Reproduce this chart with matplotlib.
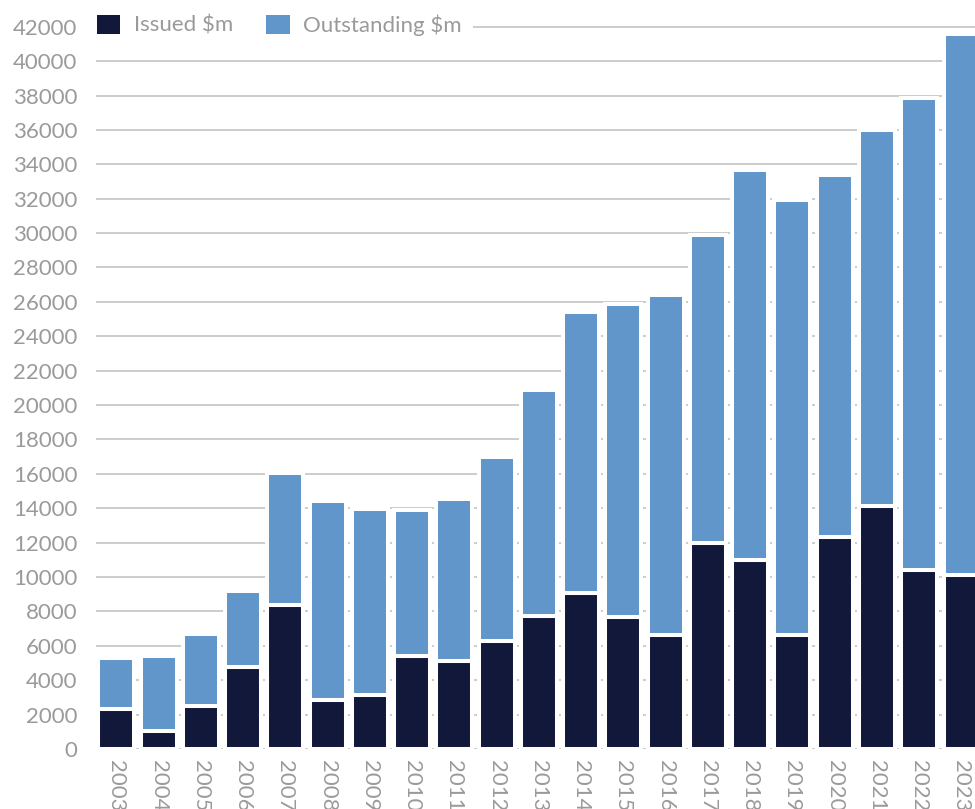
import numpy as np
import matplotlib.pyplot as plt
from matplotlib.patches import Patch

# data
years = ["2003", "2004", "2005", "2006", "2007", "2008", "2009", "2010", "2011", "2012",
         "2013", "2014", "2015", "2016", "2017", "2018", "2019", "2020", "2021", "2022", "2023"]
issued = [2300, 1050, 2500, 4750, 8350, 2850, 3150, 5400, 5100, 6300,
          7750, 9050, 7650, 6650, 11950, 11000, 6650, 12300, 14150, 10400, 10100]
outstanding = [3000, 4350, 4200, 4450, 7700, 11550, 10800, 8500, 9450, 10700,
               13150, 16350, 18200, 19750, 17950, 22650, 25300, 21100, 21850, 27450, 31450]
labels = ["Issued $m", "Outstanding $m"]

dark = "#11183a"
blue = "#6196cb"
grey = "#9a9a9a"

plt.rcParams['font.family'] = ['Lato', 'DejaVu Sans']

fig = plt.figure(figsize=(9.75, 8.09), dpi=100)
ax = fig.add_axes([96 / 975, 60 / 809, 879 / 975, 724 / 809])

x = np.arange(len(years))
ax.bar(x, issued, width=0.85, color=dark, edgecolor="white", linewidth=2.9, zorder=2)
ax.bar(x, outstanding, bottom=issued, width=0.85, color=blue, edgecolor="white",
       linewidth=2.9, zorder=2)

ax.set_ylim(0, 42100)
ax.set_yticks(range(0, 42001, 2000))
ax.set_xlim(-0.48, 20.32)
ax.set_xticks(x)
ax.set_xticklabels(years)

ax.grid(axis="y", color="#c8c8c8", linewidth=1.3)
ax.set_axisbelow(True)
for s in ax.spines.values():
    s.set_visible(False)

ax.tick_params(length=0, labelsize=16, labelcolor=grey)
ax.tick_params(axis="y", pad=13.5)
ax.tick_params(axis="x", pad=8, labelrotation=270)

handles = [Patch(facecolor=dark, edgecolor="none"), Patch(facecolor=blue, edgecolor="none")]
fig.legend(handles, labels, loc="center left", bbox_to_anchor=(86 / 975, 1 - 25 / 809),
           ncol=2, frameon=True, facecolor="white", edgecolor="none", framealpha=1,
           fancybox=False, fontsize=16, labelcolor=grey, handlelength=1.05,
           handleheight=0.95, handletextpad=0.6, columnspacing=1.5,
           borderpad=0.5, borderaxespad=0)

fig.savefig("out.png", dpi=100)
